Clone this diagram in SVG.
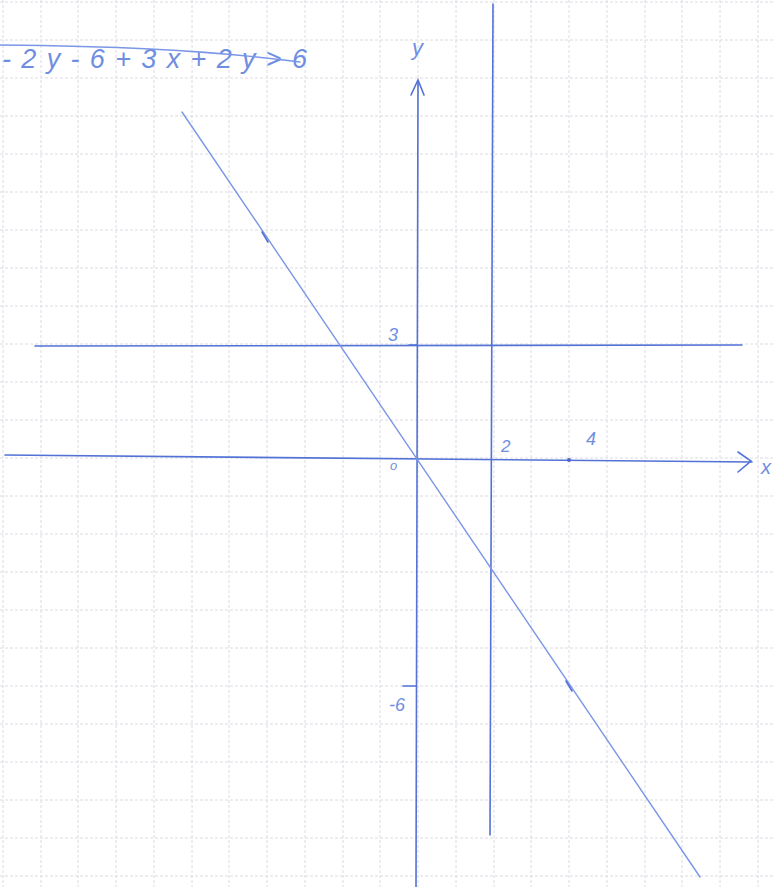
<svg xmlns="http://www.w3.org/2000/svg" width="775" height="887" viewBox="0 0 775 887">
<style>
.grid{stroke:#dcdce4;stroke-width:1;stroke-dasharray:3 2;fill:none}
.ink{stroke:#5272d6;stroke-width:1.6;fill:none;stroke-linecap:round}
.ink2{stroke:#7b96e6;stroke-width:1.4;fill:none;stroke-linecap:round}
.hand{font-family:"Liberation Sans",sans-serif;font-style:italic;fill:#6f8ee2}
</style>
<rect width="775" height="887" fill="#ffffff"/>
<g id="grid">
<path class="grid" d="M3 0V887M41 0V887M78 0V887M116 0V887M154 0V887M192 0V887M229 0V887M267 0V887M305 0V887M343 0V887M380 0V887M418 0V887M456 0V887M494 0V887M531 0V887M569 0V887M607 0V887M645 0V887M682 0V887M720 0V887M758 0V887"/>
<path class="grid" d="M0 2H775M0 40H775M0 78H775M0 116H775M0 154H775M0 192H775M0 230H775M0 268H775M0 306H775M0 344H775M0 382H775M0 420H775M0 458H775M0 496H775M0 534H775M0 572H775M0 610H775M0 648H775M0 686H775M0 724H775M0 762H775M0 800H775M0 838H775M0 876H775"/>
</g>
<g id="formula">
<text class="hand" x="2" y="68" font-size="27" textLength="305" lengthAdjust="spacing">-2y-6+3x+2y&gt;6</text>
<path class="ink2" d="M0 45 C100 46 200 49 300 62"/>
</g>
<g id="axes">
<path class="ink" d="M416 887 L418 82"/>
<path class="ink" d="M411 95 L418 80 L424 95"/>
<path class="ink" d="M5 455 L752 462"/>
<path class="ink" d="M738 452 L751 461 L738 472"/>
<text class="hand" x="412" y="55" font-size="22">y</text>
<text class="hand" x="761" y="474" font-size="20">x</text>
<text class="hand" x="390" y="470" font-size="13">o</text>
</g>
<g id="line-y3">
<path class="ink" d="M35 346 L742 345"/>
<path class="ink" d="M409 345 L417 345" stroke-width="3"/>
<text class="hand" x="388" y="341" font-size="18">3</text>
</g>
<g id="line-x2">
<path class="ink" d="M493 4 L490 835"/>
<text class="hand" x="501" y="452" font-size="17">2</text>
</g>
<g id="ticks">
<circle cx="569" cy="460" r="2" fill="#4a66c8"/>
<text class="hand" x="586" y="445" font-size="18">4</text>
<path class="ink" d="M403 686 L416 686"/>
<text class="hand" x="389" y="711" font-size="18">-6</text>
</g>
<g id="line-diag">
<path class="ink2" d="M182 112 L700 877"/>
<path class="ink" d="M262 232 L268 242" stroke-width="2.5"/>
<path class="ink" d="M566 681 L572 691" stroke-width="2.5"/>
</g>
</svg>
